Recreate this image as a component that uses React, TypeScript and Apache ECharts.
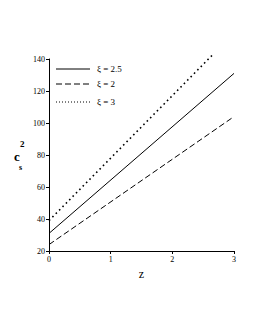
import React, { useEffect, useRef } from "react";
import * as echarts from "echarts";

const xTicks = [0, 1, 2, 3];
const yTicks = [20, 40, 60, 80, 100, 120, 140];
const seriesNames = ["ξ = 2.5", "ξ = 2", "ξ = 3"];
const zSolid = [0, 3];
const cSolid = [31, 131];
const zDashed = [0, 3];
const cDashed = [24, 104];
const zDotted = [0, 2.65];
const cDotted = [39, 142.5];

const FONT = "'Liberation Serif', 'DejaVu Serif', serif";

export default function App() {
  const ref = useRef<HTMLDivElement>(null);
  useEffect(() => {
    const chart = echarts.init(ref.current!, null, { renderer: "svg" });
    const pairs = (xs: number[], ys: number[]) => xs.map((x, i) => [x, ys[i]]);
    const styles: any[] = [
      { color: "#000", width: 1, type: "solid" },
      { color: "#000", width: 1, type: [6, 3] },
      { color: "#000", width: 1.6, type: [1.6, 3.2] },
    ];
    const legendY = [69, 84, 102];
    const legendGraphics: any[] = [];
    seriesNames.forEach((n, i) => {
      legendGraphics.push({
        type: "line",
        shape: { x1: 56, y1: legendY[i], x2: 90, y2: legendY[i] },
        style: { stroke: "#000", lineWidth: i === 2 ? 1 : styles[i].width, lineDash: i === 0 ? null : i === 2 ? [1, 2] : styles[i].type },
      });
      legendGraphics.push({
        type: "text",
        x: 97,
        y: legendY[i],
        style: { text: n, font: `9px ${FONT}`, fill: "#000", verticalAlign: "middle" },
      });
    });
    chart.setOption({
      animation: false,
      textStyle: { fontFamily: FONT },
      grid: { left: 49, right: 21, top: 59, bottom: 79 },
      xAxis: {
        type: "value",
        min: 0,
        max: 3,
        interval: 1,
        name: "z",
        nameLocation: "middle",
        nameGap: 17,
        nameTextStyle: { fontFamily: FONT, fontSize: 12, color: "#000" },
        axisLine: { show: true, lineStyle: { color: "#000", width: 1 } },
        axisTick: { show: true, length: 3, lineStyle: { color: "#000" } },
        axisLabel: { fontFamily: FONT, fontSize: 8, color: "#000", margin: 4 },
        splitLine: { show: false },
      },
      yAxis: {
        type: "value",
        min: 20,
        max: 140,
        interval: 20,
        axisLine: { show: true, lineStyle: { color: "#000", width: 1 } },
        axisTick: { show: true, length: 3, lineStyle: { color: "#000" } },
        axisLabel: { fontFamily: FONT, fontSize: 8, color: "#000", margin: 4 },
        splitLine: { show: false },
      },
      series: [
        { name: seriesNames[0], type: "line", data: pairs(zSolid, cSolid), showSymbol: false, lineStyle: styles[0], clip: false },
        { name: seriesNames[1], type: "line", data: pairs(zDashed, cDashed), showSymbol: false, lineStyle: styles[1], clip: false },
        { name: seriesNames[2], type: "line", data: pairs(zDotted, cDotted), showSymbol: false, lineStyle: styles[2], clip: false },
      ],
      graphic: [
        ...legendGraphics,
        { type: "text", x: 14, y: 150, style: { text: "c", font: `bold 13px ${FONT}`, fill: "#000" } },
        { type: "text", x: 19, y: 163, style: { text: "s", font: `bold 8px ${FONT}`, fill: "#000" } },
        { type: "text", x: 20, y: 139, style: { text: "2", font: `bold 9px ${FONT}`, fill: "#000" } },
      ],
    });
    return () => chart.dispose();
  }, []);
  return <div ref={ref} style={{ width: 255, height: 330, margin: -8 }} />;
}
